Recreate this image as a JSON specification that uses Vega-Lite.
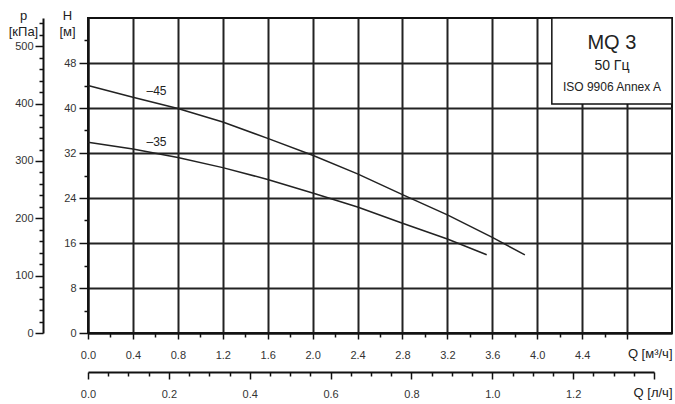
{
  "$schema": "https://vega.github.io/schema/vega-lite/v6.json",
  "width": 584,
  "height": 315,
  "autosize": "none",
  "padding": {"left": 88, "top": 18, "right": 3, "bottom": 71},
  "background": "white",
  "config": {
    "font": "Liberation Sans",
    "view": {"stroke": "#111", "strokeWidth": 2},
    "axis": {
      "labelFont": "Liberation Sans",
      "labelFontSize": 11,
      "labelColor": "#333",
      "tickColor": "#111",
      "tickWidth": 1.5,
      "domainColor": "#111",
      "domainWidth": 2,
      "gridColor": "#222",
      "gridWidth": 2,
      "gridOpacity": 1,
      "titleFont": "Liberation Sans",
      "titleFontWeight": "normal",
      "titleColor": "#222",
      "titleFontSize": 12,
      "labelFlush": false,
      "labelOverlap": false
    }
  },
  "datasets": {
    "curves": [
      {"Q": 0.0, "H": 44.0, "curve": "-45"},
      {"Q": 0.4, "H": 41.9, "curve": "-45"},
      {"Q": 0.8, "H": 39.9, "curve": "-45"},
      {"Q": 1.2, "H": 37.5, "curve": "-45"},
      {"Q": 1.6, "H": 34.6, "curve": "-45"},
      {"Q": 2.0, "H": 31.6, "curve": "-45"},
      {"Q": 2.4, "H": 28.3, "curve": "-45"},
      {"Q": 2.8, "H": 24.6, "curve": "-45"},
      {"Q": 3.2, "H": 21.0, "curve": "-45"},
      {"Q": 3.6, "H": 17.0, "curve": "-45"},
      {"Q": 3.89, "H": 13.9, "curve": "-45"},
      {"Q": 0.0, "H": 33.9, "curve": "-35"},
      {"Q": 0.4, "H": 32.7, "curve": "-35"},
      {"Q": 0.8, "H": 31.2, "curve": "-35"},
      {"Q": 1.2, "H": 29.4, "curve": "-35"},
      {"Q": 1.6, "H": 27.3, "curve": "-35"},
      {"Q": 2.0, "H": 24.9, "curve": "-35"},
      {"Q": 2.4, "H": 22.4, "curve": "-35"},
      {"Q": 2.8, "H": 19.5, "curve": "-35"},
      {"Q": 3.2, "H": 16.7, "curve": "-35"},
      {"Q": 3.55, "H": 13.9, "curve": "-35"}
    ],
    "labels": [
      {"Q": 0.61, "H": 43.1, "label": "–45"},
      {"Q": 0.61, "H": 33.9, "label": "–35"}
    ],
    "one": [{}]
  },
  "resolve": {
    "scale": {"x": "independent", "y": "independent"},
    "axis": {"x": "independent", "y": "independent"}
  },
  "layer": [
    {
      "data": {"name": "curves"},
      "mark": {"type": "line", "color": "#222", "strokeWidth": 1.5},
      "encoding": {
        "x": {
          "field": "Q", "type": "quantitative",
          "scale": {"domain": [0, 5.2], "nice": false, "zero": false},
          "axis": {
            "orient": "bottom",
            "values": [0, 0.4, 0.8, 1.2, 1.6, 2.0, 2.4, 2.8, 3.2, 3.6, 4.0, 4.4, 4.8],
            "labelExpr": "datum.value > 4.6 ? '' : format(datum.value, '.1f')",
            "grid": true,
            "tickSize": 6,
            "labelPadding": 10,
            "title": "Q [м³/ч]",
            "titleFontSize": 13,
            "titleAlign": "right",
            "titleBaseline": "alphabetic",
            "titleAnchor": null,
            "titleX": 584,
            "titleY": 24
          }
        },
        "y": {
          "field": "H", "type": "quantitative",
          "scale": {"domain": [0, 56], "nice": false, "zero": false},
          "axis": {
            "orient": "left",
            "values": [0, 8, 16, 24, 32, 40, 48],
            "grid": true,
            "tickSize": 9,
            "labelPadding": 3,
            "title": ["H", "[м]"],
            "titleFontSize": 13,
            "titleLineHeight": 16,
            "titleAngle": 0,
            "titleAlign": "center",
            "titleBaseline": "alphabetic",
            "titleAnchor": null,
            "titleX": -21,
            "titleY": 1
          }
        },
        "detail": {"field": "curve"}
      }
    },
    {
      "data": {"name": "curves"},
      "mark": {"type": "point", "opacity": 0},
      "encoding": {
        "x": {
          "field": "Q", "type": "quantitative",
          "scale": {"domain": [0, 5.2], "nice": false, "zero": false},
          "axis": {
            "orient": "bottom",
            "values": [0.2, 0.6, 1.0, 1.4, 1.8, 2.2, 2.6, 3.0, 3.4, 3.8, 4.2, 4.6],
            "labels": false, "grid": false, "domain": false,
            "tickSize": 4, "title": null
          }
        },
        "y": {
          "field": "H", "type": "quantitative",
          "scale": {"domain": [0, 56], "nice": false, "zero": false},
          "axis": {
            "orient": "left",
            "values": [4, 12, 20, 28, 36, 44, 52],
            "labels": false, "grid": false, "domain": false,
            "tickSize": 4, "title": null
          }
        }
      }
    },
    {
      "data": {"name": "curves"},
      "mark": {"type": "point", "opacity": 0},
      "encoding": {
        "x": {
          "field": "Q", "type": "quantitative",
          "scale": {"domain": [0, 1.4], "range": [0, 566], "nice": false, "zero": false},
          "axis": {
            "orient": "bottom",
            "offset": 39,
            "values": [0, 0.2, 0.4, 0.6, 0.8, 1.0, 1.2, 1.4],
            "labelExpr": "datum.value > 1.3 ? '' : format(datum.value, '.1f')",
            "grid": false,
            "tickSize": 7,
            "labelPadding": 9,
            "title": "Q [л/ч]",
            "titleFontSize": 13,
            "titleAlign": "right",
            "titleBaseline": "alphabetic",
            "titleAnchor": null,
            "titleX": 584,
            "titleY": 24
          }
        },
        "y": {
          "field": "H", "type": "quantitative",
          "scale": {"domain": [0, 549.4], "nice": false, "zero": false},
          "axis": {
            "orient": "left",
            "offset": 45,
            "values": [0, 100, 200, 300, 400, 500],
            "grid": false,
            "tickSize": 8,
            "labelPadding": 2,
            "title": ["p", "[кПа]"],
            "titleFontSize": 13,
            "titleLineHeight": 16,
            "titleAngle": 0,
            "titleAlign": "center",
            "titleBaseline": "alphabetic",
            "titleAnchor": null,
            "titleX": -20,
            "titleY": 1
          }
        }
      }
    },
    {
      "data": {"name": "curves"},
      "mark": {"type": "point", "opacity": 0},
      "encoding": {
        "x": {
          "field": "Q", "type": "quantitative",
          "scale": {"domain": [0, 1.4], "range": [0, 566], "nice": false, "zero": false},
          "axis": {
            "orient": "bottom",
            "offset": 39,
            "values": [0.05, 0.1, 0.15, 0.25, 0.3, 0.35, 0.45, 0.5, 0.55, 0.65, 0.7, 0.75, 0.85, 0.9, 0.95, 1.05, 1.1, 1.15, 1.25, 1.3, 1.35],
            "labels": false, "grid": false, "domain": false,
            "tickSize": 4, "title": null
          }
        },
        "y": {
          "field": "H", "type": "quantitative",
          "scale": {"domain": [0, 549.4], "nice": false, "zero": false},
          "axis": {
            "orient": "left",
            "offset": 45,
            "values": [20, 40, 60, 80, 120, 140, 160, 180, 220, 240, 260, 280, 320, 340, 360, 380, 420, 440, 460, 480, 520, 540],
            "labels": false, "grid": false, "domain": false,
            "tickSize": 4, "title": null
          }
        }
      }
    },
    {
      "data": {"name": "labels"},
      "mark": {"type": "text", "fontSize": 12, "color": "#222", "align": "center", "baseline": "middle"},
      "encoding": {
        "x": {"field": "Q", "type": "quantitative", "scale": {"domain": [0, 5.2], "nice": false, "zero": false}, "axis": null},
        "y": {"field": "H", "type": "quantitative", "scale": {"domain": [0, 56], "nice": false, "zero": false}, "axis": null},
        "text": {"field": "label"}
      }
    },
    {
      "data": {"name": "one"},
      "mark": {"type": "rect", "fill": "white", "stroke": "#111", "strokeWidth": 1.5},
      "encoding": {
        "x": {"datum": 4.13, "type": "quantitative", "scale": {"domain": [0, 5.2], "nice": false, "zero": false}, "axis": null},
        "x2": {"datum": 5.2},
        "y": {"datum": 40.7, "type": "quantitative", "scale": {"domain": [0, 56], "nice": false, "zero": false}, "axis": null},
        "y2": {"datum": 56}
      }
    },
    {
      "data": {"name": "one"},
      "mark": {"type": "text", "fontSize": 20, "color": "#222", "align": "center", "baseline": "middle"},
      "encoding": {
        "x": {"datum": 4.665, "type": "quantitative", "scale": {"domain": [0, 5.2], "nice": false, "zero": false}, "axis": null},
        "y": {"datum": 51.6, "type": "quantitative", "scale": {"domain": [0, 56], "nice": false, "zero": false}, "axis": null},
        "text": {"value": "MQ 3"}
      }
    },
    {
      "data": {"name": "one"},
      "mark": {"type": "text", "fontSize": 14, "color": "#222", "align": "center", "baseline": "middle"},
      "encoding": {
        "x": {"datum": 4.665, "type": "quantitative", "scale": {"domain": [0, 5.2], "nice": false, "zero": false}, "axis": null},
        "y": {"datum": 47.4, "type": "quantitative", "scale": {"domain": [0, 56], "nice": false, "zero": false}, "axis": null},
        "text": {"value": "50 Гц"}
      }
    },
    {
      "data": {"name": "one"},
      "mark": {"type": "text", "fontSize": 12, "color": "#222", "align": "center", "baseline": "middle"},
      "encoding": {
        "x": {"datum": 4.665, "type": "quantitative", "scale": {"domain": [0, 5.2], "nice": false, "zero": false}, "axis": null},
        "y": {"datum": 43.8, "type": "quantitative", "scale": {"domain": [0, 56], "nice": false, "zero": false}, "axis": null},
        "text": {"value": "ISO 9906 Annex A"}
      }
    }
  ]
}
